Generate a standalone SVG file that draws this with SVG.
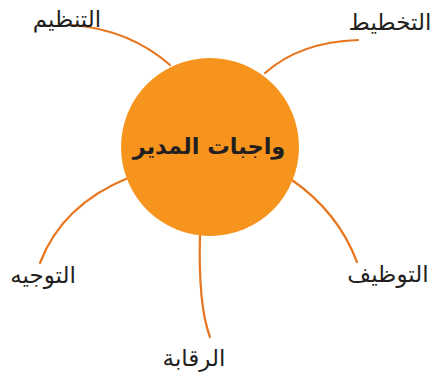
<svg xmlns="http://www.w3.org/2000/svg" width="436" height="377" viewBox="0 0 436 377">
<style>
.lbl{font-family:"DejaVu Sans","Noto Sans",sans-serif;font-size:23px;fill:#231F20;direction:rtl;}
.ctr{font-family:"DejaVu Sans","Noto Sans",sans-serif;font-size:22.5px;font-weight:bold;fill:#231F20;direction:rtl;}
.con{fill:none;stroke:#E8761E;stroke-width:2.2;stroke-linecap:round;}
</style>
<rect width="436" height="377" fill="#FFFFFF"/>
<g id="connectors">
<path class="con" d="M73,25 Q130,30 170,65"/>
<path class="con" d="M358,40 Q300,42 265,73"/>
<path class="con" d="M128,178 Q62,205 40,263"/>
<path class="con" d="M200,235 Q198,305 210,337"/>
<path class="con" d="M292,180 Q338,212 357,262"/>
</g>
<g id="center">
<circle cx="210" cy="147" r="89" fill="#F7941D"/>
<text class="ctr" x="209" y="154" text-anchor="middle">واجبات المدير</text>
</g>
<g id="n-tanzim"><text class="lbl" x="67" y="27" text-anchor="middle">التنظيم</text></g>
<g id="n-takhtit"><text class="lbl" x="390" y="30" text-anchor="middle">التخطيط</text></g>
<g id="n-tawjih"><text class="lbl" x="43" y="283" text-anchor="middle">التوجيه</text></g>
<g id="n-riqaba"><text class="lbl" x="194" y="366" text-anchor="middle">الرقابة</text></g>
<g id="n-tawzif"><text class="lbl" x="388" y="282" text-anchor="middle">التوظيف</text></g>
</svg>
